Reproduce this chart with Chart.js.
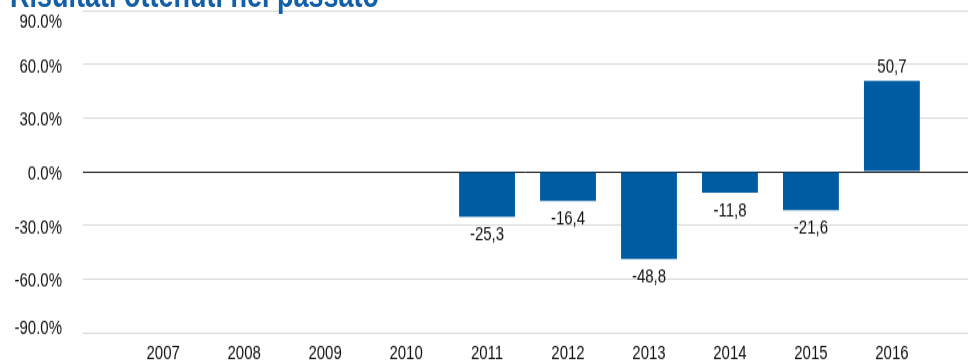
<!DOCTYPE html>
<html>
<head>
<meta charset="utf-8">
<script src="https://cdn.jsdelivr.net/npm/chart.js@4"></script>
<style>
  html, body { margin: 0; padding: 0; background: #fff; overflow: hidden; }
  #wrap { position: relative; width: 968px; height: 363px; }
  #chart { width: 968px; height: 363px; display: block; }
  #title {
    position: absolute; left: 10px; top: -25px; margin: 0;
    font: bold 27px "Liberation Sans", Arial, sans-serif; color: #1460a8;
    white-space: nowrap; line-height: 30px;
    transform: scaleY(1.32); transform-origin: 0 0;
  }
</style>
</head>
<body>
<div id="wrap">
  <!-- drawn at 275px tall, shown at 363px: the reference is stretched vertically -->
  <canvas id="chart" width="968" height="275" style="width:968px;height:363px"></canvas>
  <div id="title">Risultati ottenuti nel passato</div>
</div>
<script>
const years = ['2007', '2008', '2009', '2010', '2011', '2012', '2013', '2014', '2015', '2016'];
const returns = [null, null, null, null, -25.3, -16.4, -48.8, -11.8, -21.6, 50.7];
const yTicks = [-90, -60, -30, 0, 30, 60, 90];

const FONT = "'Liberation Sans', Arial, sans-serif";

const valueLabels = {
  id: 'valueLabels',
  afterDatasetsDraw(chart) {
    const ctx = chart.ctx;
    const meta = chart.getDatasetMeta(0);
    ctx.save();
    ctx.font = '15px ' + FONT;
    ctx.fillStyle = '#111';
    ctx.textAlign = 'center';
    ctx.textBaseline = 'middle';
    meta.data.forEach((bar, i) => {
      const v = returns[i];
      if (v === null) return;
      const txt = v.toFixed(1).replace('.', ',');
      const y = v >= 0 ? bar.y - 10 : bar.y + 13.5;
      ctx.fillText(txt, bar.x, y);
    });
    ctx.restore();
  }
};

// excel-style axis labels: sit a bit under their gridline, end ones pulled inside the plot
const yLabels = {
  id: 'yLabels',
  afterDraw(chart) {
    const ctx = chart.ctx;
    const s = chart.scales.y;
    const area = chart.chartArea;
    ctx.save();
    ctx.font = '15px ' + FONT;
    ctx.fillStyle = '#111';
    ctx.textAlign = 'right';
    ctx.textBaseline = 'middle';
    yTicks.forEach(v => {
      let y = s.getPixelForValue(v) + 2;
      y = Math.min(Math.max(y, area.top + 9), area.bottom - 3.6);
      ctx.fillText(v.toFixed(1) + '%', area.left - 21, y);
    });
    ctx.restore();
  }
};

new Chart(document.getElementById('chart').getContext('2d'), {
  type: 'bar',
  data: {
    datasets: [{
      data: returns.map((v, i) => ({ x: i, y: v })),
      backgroundColor: '#005ca2',
      barPercentage: 0.69,
      categoryPercentage: 1
    }]
  },
  options: {
    responsive: false,
    animation: false,
    layout: { padding: 0 },
    plugins: { legend: { display: false }, tooltip: { enabled: false } },
    scales: {
      x: {
        type: 'linear',
        offset: false,
        min: -0.99,
        max: 9.94,
        grid: { display: false, drawTicks: false },
        border: { display: false },
        afterBuildTicks: s => { s.ticks = years.map((_, i) => ({ value: i })); },
        afterFit: s => { s.height = 23; },
        ticks: {
          callback: v => years[v],
          color: '#111',
          font: { family: FONT, size: 15 },
          padding: 7,
          maxRotation: 0,
          autoSkip: false
        }
      },
      y: {
        min: -90,
        max: 90,
        afterBuildTicks: s => { s.ticks = yTicks.map(v => ({ value: v })); },
        afterFit: s => {
          s.width = 83;
          s.paddingTop = 8;
          s.paddingBottom = 0;
        },
        grid: {
          drawTicks: false,
          color: c => c.tick.value === 0 ? '#222' : '#d9d9d9',
          lineWidth: 1
        },
        border: { display: false },
        ticks: { display: false }
      }
    }
  },
  plugins: [valueLabels, yLabels]
});
</script>
</body>
</html>
